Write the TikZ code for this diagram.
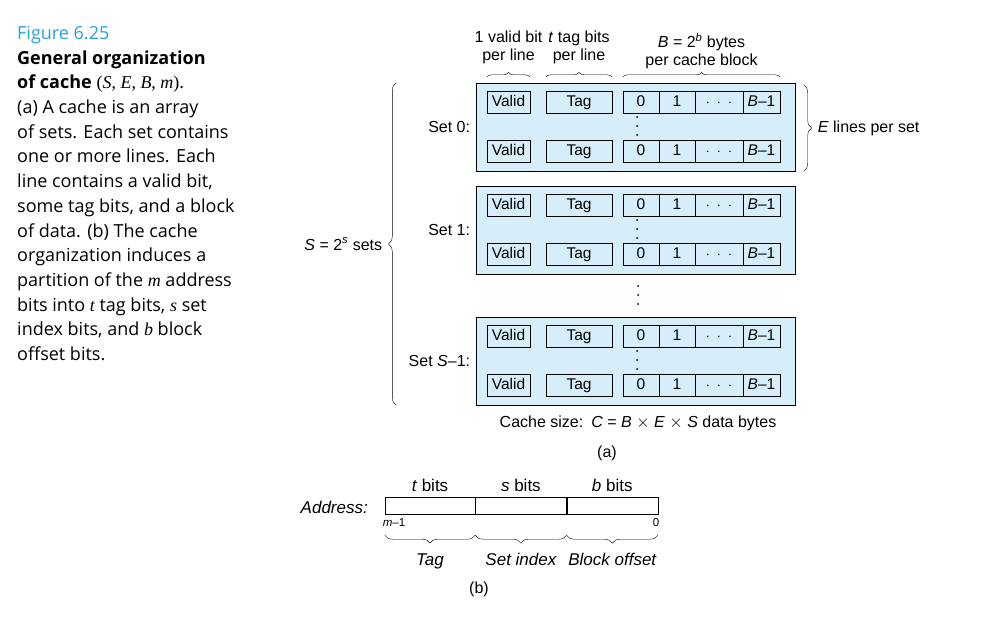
\documentclass[tikz,border=0pt]{standalone}
\usepackage{fontspec}
\setmainfont{Liberation Sans}
\newfontfamily\capfont{Open Sans}
\newfontfamily\capmath{Liberation Serif}
\usetikzlibrary{positioning,decorations.pathreplacing}
\definecolor{setfill}{RGB}{214,238,250}
\definecolor{figblue}{RGB}{40,160,225}
\newcommand{\cv}[1]{{\capmath\itshape #1}}
\tikzset{
  cell/.style={draw, inner sep=0pt, minimum height=22pt, text height=11.5pt, text depth=3.5pt, font=\fontsize{15.5}{18}\selectfont},
  setbox/.style={draw, fill=setfill, minimum width=319pt, minimum height=88pt, inner sep=0pt},
  lbl/.style={inner sep=0pt, font=\fontsize{16}{18}\selectfont},
  ilbl/.style={inner sep=0pt, font=\fontsize{17}{20}\selectfont\itshape},
  brc/.style={decorate, decoration={brace, amplitude=5pt}, thin},
}

\begin{document}
\begin{tikzpicture}[x=1pt, y=-1pt]
	\useasboundingbox (0,0) rectangle (1005,626);
	% caption
	\node[anchor=north west, inner sep=0pt, align=left, font=\capfont\fontsize{18}{24.7}\selectfont] (cap) at (17,26)
		{{\color{figblue}Figure 6.25}\\
		 \textbf{General organization}\\
		 \textbf{of cache} {\capmath(\cv{S}, \cv{E}, \cv{B}, \cv{m})}.\\
		 (a) A cache is an array\\
		 of sets. Each set contains\\
		 one or more lines. Each\\
		 line contains a valid bit,\\
		 some tag bits, and a block\\
		 of data. (b) The cache\\
		 organization induces a\\
		 partition of the \cv{m} address\\
		 bits into \cv{t} tag bits, \cv{s} set\\
		 index bits, and \cv{b} block\\
		 offset bits.};
	% (a) the sets
	\foreach \s/\top/\name in {0/83/Set 0:, 1/186/Set 1:, 2/317/Set \textit{S}--1:}{
		\node[setbox] (set\s) at (636,\top+44) {};
		\node[lbl, anchor=east] (setlab\s) at ([xshift=-6pt]set\s.west) {\name};
		\foreach \r/\dy in {a/19.5, b/68.5}{
			\node[cell, minimum width=43pt] (valid\s\r) at (508.5,\top+\dy) {Valid};
			\node[cell, minimum width=66pt] (tag\s\r) at (579,\top+\dy) {Tag};
			\node[cell, minimum width=36pt] (bzero\s\r) at (641,\top+\dy) {0};
			\node[cell, minimum width=36pt] (bone\s\r) at (677,\top+\dy) {1};
			\node[cell, minimum width=48pt] (bdots\s\r) at (719,\top+\dy) {$\cdot\;\cdot\;\cdot$};
			\node[cell, minimum width=37pt] (blast\s\r) at (761.5,\top+\dy) {\textit{B}--1};
		}
		\foreach \d in {34,43,52}
			\fill (637,\top+\d) circle (1pt);
	}
	\foreach \d in {286,295,304}
		\fill (638,\d) circle (1pt);
	% braces on top
	\draw[brc] ([yshift=14pt]valid0a.north west) -- ([yshift=14pt]valid0a.north east)
		node[lbl, midway, above=13pt, align=center] (vlab) {1 valid bit\\per line};
	\draw[brc] ([yshift=14pt]tag0a.north west) -- ([yshift=14pt]tag0a.north east)
		node[lbl, midway, above=13pt, align=center] (tlab) {\textit{t} tag bits\\per line};
	\draw[brc] ([yshift=14pt]bzero0a.north west) -- ([yshift=14pt]blast0a.north east)
		node[lbl, midway, above=8pt, align=center] (blab) {\textit{B} = 2\textsuperscript{\textit{b}} bytes\\per cache block};
	% side braces
	\draw[brc, decoration={amplitude=8pt}] ([xshift=-80pt]set2.south west) -- ([xshift=-80pt]set0.north west)
		node[lbl, midway, left=14pt] (slab) {\textit{S} = 2\textsuperscript{\textit{s}} sets};
	\draw[brc, decoration={amplitude=8pt}] ([xshift=8pt,yshift=-2pt]set0.north east) -- ([xshift=8pt]set0.south east)
		node[lbl, midway, right=14pt] (elab) {\textit{E} lines per set};
	\node[lbl] (csize) at (638,423) {Cache size:\enspace \textit{C} = \textit{B} $\times$ \textit{E} $\times$ \textit{S} data bytes};
	\node[lbl] (parta) at (607,453) {(a)};
	% (b) the address
	\node[draw, inner sep=0pt, minimum width=90pt, minimum height=17pt] (tfield) at (430,505.5) {};
	\node[draw, inner sep=0pt, minimum width=91pt, minimum height=17pt, right=0pt of tfield] (sfield) {};
	\node[draw, inner sep=0pt, minimum width=91pt, minimum height=17pt, right=0pt of sfield] (bfield) {};
	\node[lbl, font=\fontsize{17}{20}\selectfont, above=5pt of tfield] (tbits) {\textit{t} bits};
	\node[lbl, font=\fontsize{17}{20}\selectfont, above=5pt of sfield] (sbits) {\textit{s} bits};
	\node[lbl, font=\fontsize{17}{20}\selectfont, above=5pt of bfield] (bbits) {\textit{b} bits};
	\node[ilbl, anchor=east] (addr) at (368,507) {Address:};
	\node[lbl, font=\fontsize{11.5}{13}\selectfont] (mhi) at (394,523) {\textit{m}--1};
	\node[lbl, font=\fontsize{11.5}{13}\selectfont] (mlo) at (656,523) {0};
	\draw[brc, decoration={amplitude=8pt}] ([yshift=-21pt]tfield.south east) -- ([yshift=-21pt]tfield.south west)
		node[ilbl, midway, below=18pt] (tagl) {Tag};
	\draw[brc, decoration={amplitude=8pt}] ([yshift=-21pt]sfield.south east) -- ([yshift=-21pt]sfield.south west)
		node[ilbl, midway, below=18pt] (setl) {Set index};
	\draw[brc, decoration={amplitude=8pt}] ([yshift=-21pt]bfield.south east) -- ([yshift=-21pt]bfield.south west)
		node[ilbl, midway, below=18pt] (offl) {Block offset};
	\node[lbl] (partb) at (479,589) {(b)};
\end{tikzpicture}
\end{document}
